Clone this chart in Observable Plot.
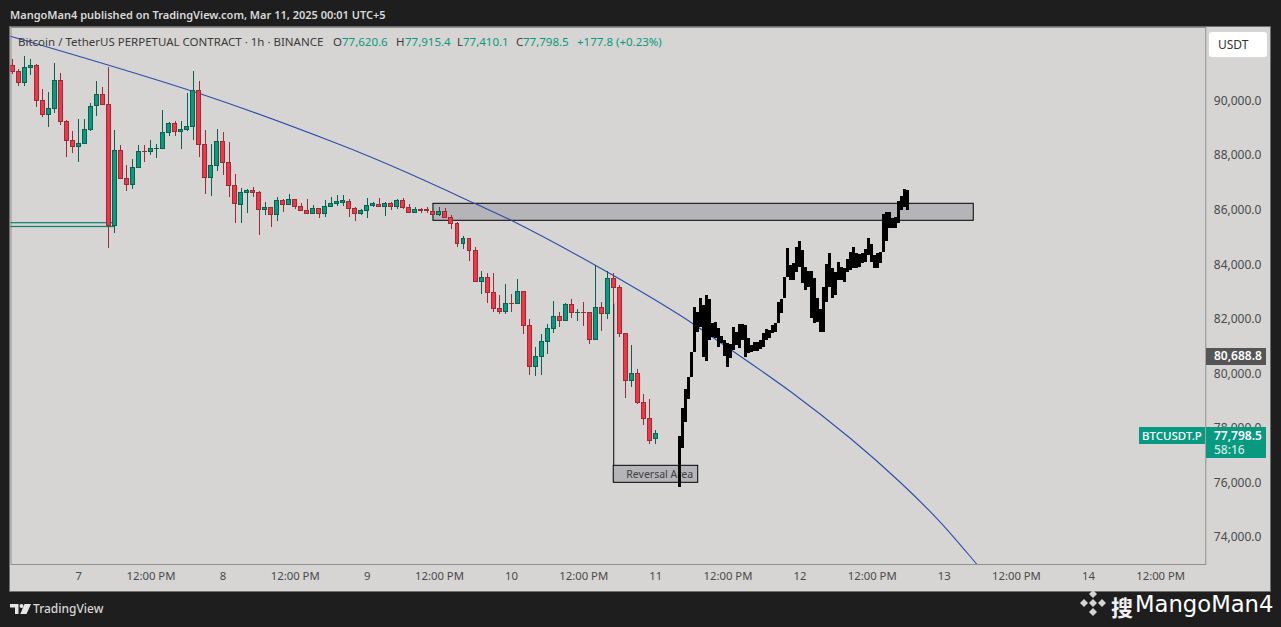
<!DOCTYPE html>
<html>
<head>
<meta charset="utf-8">
<script src="https://cdn.jsdelivr.net/npm/d3@7"></script>
<script src="https://cdn.jsdelivr.net/npm/@observablehq/plot@0.6"></script>
<style>
html,body{margin:0;padding:0;background:#1e1e1e;overflow:hidden;width:1281px;height:627px}
#stage{position:relative;width:1281px;height:627px;font-family:"Noto Sans",sans-serif}
#panel{position:absolute;left:10px;top:27px;width:1260px;height:564px;background:#d6d5d3;box-shadow:0 0 0 1px #6f6f6f}
#chart{position:absolute;left:0;top:0}
.lab{position:absolute;white-space:nowrap;line-height:1}
.tag{position:absolute;display:flex;flex-direction:column;align-items:flex-start;justify-content:center;color:#fff;font-weight:600;font-size:12px;line-height:14px;box-sizing:border-box;padding-left:8px}
svg.deco{position:absolute}
</style>
</head>
<body>
<div id="stage"><div id="panel"></div><div id="chart"></div></div>
<script>
// Hours are counted from 11 March 00:00 (chart time)
const openPrices = [91293,91073,90657,91207,91293,90010,89484,89716,90743,89240,
88543,88311,88421,88934,89814,90230,89863,85415,88177,87150,
86918,87541,88140,88128,88238,88250,88837,89167,88861,88947,
89057,90376,88397,87187,87627,88507,87737,86894,86197,86637,
86710,86637,86014,86087,85831,86344,86197,86380,86124,85977,
85867,86051,85867,86124,86234,86258,86307,86051,85855,85965,
86136,86197,86112,86234,86112,86344,86087,85904,86014,85989,
85940,85818,85940,85721,85501,84755,84951,84511,83362,83521,
82971,82384,82262,82568,82556,83008,81761,80246,80613,81162,
81651,82091,81932,82531,82226,82238,82238,81248,82421,82189,
83484,83154,81468,79745,79977,78938,78352,77620.6];
const highPrices = [91513,91158,91635,91513,91342,90413,90303,91366,91000,89277,
88886,89313,89313,89900,90718,90486,91220,88922,88372,87639,
87847,88372,88372,88556,88409,89643,89203,89252,89252,90279,
91085,90718,88922,88409,88947,88849,88470,87309,86796,86747,
86833,86686,86283,86112,86454,86405,86564,86405,86234,86380,
86161,86051,86344,86466,86539,86539,86393,86112,86014,86429,
86270,86417,86270,86295,86380,86417,86197,86112,86075,86087,
85965,86087,86051,85794,85537,85036,84963,84621,83741,83668,
83668,82861,83264,82898,83448,83008,81981,80967,81444,81810,
82653,82238,82568,82727,82348,82617,82238,83985,82605,83741,
83668,83228,81468,81040,80160,79244,79061,77915.4];
const lowPrices = [90975,90535,90535,90939,89778,89411,89044,89533,89105,87945,
88067,87761,88409,88898,89435,89839,84584,85134,87138,86698,
86759,87517,87761,88018,87896,88238,88690,88702,88238,88898,
88556,87945,86576,86515,87431,87273,86454,85525,85525,85892,
86478,85085,85818,85378,85598,85916,86173,86038,85965,85843,
85843,85708,85745,86087,86136,86148,85745,85598,85806,85696,
86087,86112,85769,85989,86038,86038,85892,85892,85892,85892,
85806,85782,85696,85305,84645,84572,84132,83362,82910,82592,
82262,82165,82189,82262,82556,81456,79953,79916,79953,80711,
81468,81712,81932,82042,81932,81737,81089,81236,81553,82006,
82568,81346,79097,79513,78877,78108,77411,77410.1];
const closePrices = [91061,90657,91220,91293,89998,89484,89716,90743,89240,88543,
88311,88433,88947,89790,90230,89863,85415,88177,87150,86930,
87553,88140,88116,88250,88250,88837,89167,88861,88947,89057,
90376,88397,87187,87627,88507,87737,86882,86222,86637,86698,
86625,86014,86087,85818,86344,86197,86380,86124,85977,85867,
86051,85867,86124,86234,86283,86319,86038,85855,85977,86161,
86209,86124,86234,86112,86344,86075,85904,86014,85965,85977,
85818,85940,85708,85501,84755,84951,84511,83374,83521,82959,
82372,82262,82568,82556,83008,81749,80246,80625,81175,81651,
82091,81932,82531,82226,82238,82226,81236,82421,82189,83484,
83154,81456,79733,79977,78926,78352,77533,77798.5];
const firstCandleHour = -107;

// The black drawn projection: half-hourly ranges
const firstSketchHour = 4;
const sketchHighs = [77701,78728,79424,79864,80781,82431,82248,82761,82505,82871,82725,81845,81881,81661,81368,81221,81111,81074,81698,81515,
81808,81808,81771,81294,81038,81148,81148,81221,81478,81625,81588,81771,81845,82615,82725,83531,84595,83971,84045,84632,
84852,84522,83898,83751,83751,83495,82761,82358,83165,84008,84412,83861,83715,84081,83898,83861,84192,84448,84632,84412,
84375,84412,84558,84962,84741,84338,84412,84448,85842,85915,85915,85695,85731,86318,86502,86758,86722];
const sketchLows = [75842,77261,78214,79058,79864,80781,81515,81698,80598,80451,81221,81331,81295,80964,81111,80635,80231,80561,80855,81038,
80928,81221,80598,80744,80781,80818,80818,80891,80964,81221,81294,81478,81515,81845,82211,82761,83531,83421,83421,83715,
83898,83312,83055,83165,82028,81845,81881,81515,81515,82615,83165,82761,82871,83421,83421,83348,83715,83788,83861,83861,
83898,84045,84081,84338,84081,83861,83861,84045,84448,84852,85328,85328,85328,85512,85988,86098,85988];

// Fitted arc
const arcHours = [-107.4,-75.8,-52.5,-42.2,-30,-24,-10,4.1,7.4,22.4,32.4,40.7,47.4,53.3,55.7];
const arcPrices = [92380,90268,88397,87455,86234,85622,83972,82138,81650,79351,77628,76014,74547,73044,72420];

// Drawn boxes: [start hour, end hour, top price, bottom price]
const resistanceBox = [-37,52.9,86234,85611];
const reversalBox = [-7,7.05,76626,76003];
const reversalLine = [-7,82567,76626];
const leftBox = [-115,-90,85523,85383];
const reversalText = "Reversal Area";

const priceTicks = [74000,76000,78000,80000,82000,84000,86000,88000,90000];
const timeTickHours = [-96,-84,-72,-60,-48,-36,-24,-12,0,12,24,36,48,60,72,84];
const timeTickLabels = ["7","12:00 PM","8","12:00 PM","9","12:00 PM","10","12:00 PM","11","12:00 PM","12","12:00 PM","13","12:00 PM","14","12:00 PM"];
const lastPrice = 77798.5, crossPrice = 80688.8;

const T0 = Date.UTC(2025,2,11);
const at = h => new Date(T0 + h*3600000);

const candles = openPrices.map((o,i)=>({h:firstCandleHour+i,o,hi:highPrices[i],lo:lowPrices[i],c:closePrices[i],up:closePrices[i]>=o}));
const ups = candles.filter(d=>d.up), downs = candles.filter(d=>!d.up);
const sketch = sketchHighs.map((hi,i)=>({h:firstSketchHour+i/2,hi,lo:sketchLows[i]}));
const arc = arcHours.map((h,i)=>({h,p:arcPrices[i]}));
const GREEN="#089981",GREEND="#06634f",RED="#f23645",REDD="#9c2b36";

function candleMarks(rows,fill,edge){
  return [
    Plot.ruleX(rows,{x:d=>at(d.h),y1:"lo",y2:"hi",stroke:edge,strokeWidth:1,clip:true,shapeRendering:"crispEdges"}),
    Plot.rect(rows,{x1:d=>at(d.h-0.33),x2:d=>at(d.h+0.33),y1:"o",y2:"c",fill,stroke:edge,strokeWidth:1,clip:true,shapeRendering:"crispEdges"})
  ];
}
const box = ([a,b,t,l],opt)=>Plot.rect([{a,b,t,l}],{x1:d=>at(d.a),x2:d=>at(d.b),y1:"t",y2:"l",clip:true,...opt});

const plot = Plot.plot({
  width:1281,height:627,
  marginLeft:10.5,marginRight:75.7,marginTop:27,marginBottom:63,
  style:{background:"transparent",fontFamily:'"Noto Sans",sans-serif',fontSize:"12px",color:"#4a4a4a"},
  x:{type:"utc",domain:[at(-107.29),at(91.51)]},
  y:{type:"linear",domain:[73007,92699]},
  marks:[
    Plot.frame({stroke:"#8f8f8f",strokeWidth:1}),
    box(leftBox,{fill:"none",stroke:"#0b7d69",strokeWidth:1.2}),
    box(resistanceBox,{fill:"#b5b4b8",stroke:"#000",strokeWidth:1}),
    box(reversalBox,{fill:"#b5b4b8",stroke:"#000",strokeWidth:1}),
    Plot.ruleX([reversalLine],{x:d=>at(d[0]),y1:d=>d[1],y2:d=>d[2],stroke:"#000",strokeWidth:1}),
    Plot.line(arc,{x:d=>at(d.h),y:"p",stroke:"#2a4ea8",strokeWidth:1.1,curve:"catmull-rom",clip:true}),
    Plot.text([reversalText],{x:at(0.65),y:(reversalBox[2]+reversalBox[3])/2,text:d=>d,fill:"#3e3e3e",fontSize:10.5}),
    ...candleMarks(ups,GREEN,GREEND),
    ...candleMarks(downs,RED,REDD),
    Plot.rect(sketch,{x1:d=>at(d.h-0.27),x2:d=>at(d.h+0.27),y1:"lo",y2:"hi",fill:"#000",clip:true,shapeRendering:"crispEdges"}),
    Plot.axisX({anchor:"bottom",ticks:timeTickHours.map(at),tickSize:0,tickPadding:7,label:null,fill:"#4a4a4a",fontSize:11.3,
      tickFormat:d=>timeTickLabels[timeTickHours.indexOf((+d-T0)/3600000)]}),
    Plot.axisY({anchor:"right",ticks:priceTicks,tickSize:0,tickPadding:8,label:null,fill:"#4a4a4a",
      tickFormat:d3.format(",.1f")})
  ]
});
const stage=document.getElementById("stage");
document.getElementById("chart").appendChild(plot);

function lab(text,left,top,css){
  const e=document.createElement("div");e.className="lab";e.textContent=text;
  e.style.left=left+"px";e.style.top=top+"px";
  Object.assign(e.style,css||{});stage.appendChild(e);return e;
}
// Header
lab("MangoMan4 published on TradingView.com, Mar 11, 2025 00:01 UTC+5",10,9,{color:"#d9d9d9",fontSize:"11px",fontWeight:"600"});
// Legend
const legDark={color:"#3a3a3a",fontSize:"11.5px"},legGreen={color:"#089981",fontSize:"11.5px"};
lab("Bitcoin / TetherUS PERPETUAL CONTRACT · 1h · BINANCE",18,36,legDark);
[["O",333,"77,620.6"],["H",396,"77,915.4"],["L",457,"77,410.1"],["C",516,"77,798.5"]].forEach(([k,x,v])=>{
  const e=lab(k,x,36,legDark);
  lab(v,x+e.offsetWidth,36,legGreen);
});
lab("+177.8 (+0.23%)",577,36,legGreen);
// USDT button
const usdt=lab("USDT",1209,32,{background:"#fff",color:"#333",fontSize:"12px",width:"58px",height:"25px",lineHeight:"25px",textAlign:"left",paddingLeft:"0",borderRadius:"3px",textIndent:"9px"});
// Price tags, placed through the plot's own y scale
const yS=plot.scale("y");
const t1=document.createElement("div");t1.className="tag";
t1.textContent=d3.format(",.1f")(crossPrice);
Object.assign(t1.style,{left:"1206px",top:(yS.apply(crossPrice)-7)+"px",width:"60px",height:"17px",background:"#555"});
stage.appendChild(t1);
const t2=document.createElement("div");t2.className="tag";
t2.innerHTML=d3.format(",.1f")(lastPrice)+'<span style="font-weight:500;color:#cfe9e2">58:16</span>';
Object.assign(t2.style,{left:"1206px",top:(yS.apply(lastPrice)-6)+"px",width:"60px",height:"31px",background:"#089981"});
stage.appendChild(t2);
const t3=document.createElement("div");t3.className="tag";
t3.textContent="BTCUSDT.P";
Object.assign(t3.style,{left:"1139px",top:(yS.apply(lastPrice)-6)+"px",width:"66px",height:"17px",background:"#089981",fontWeight:"500",fontSize:"11.5px",paddingLeft:"3px"});
stage.appendChild(t3);
// Footer
const ns="http://www.w3.org/2000/svg";
function deco(left,top,w,h,inner){
  const s=document.createElementNS(ns,"svg");s.setAttribute("class","deco");s.setAttribute("width",w);s.setAttribute("height",h);
  s.setAttribute("viewBox",`0 0 ${w} ${h}`);s.style.left=left+"px";s.style.top=top+"px";s.innerHTML=inner;stage.appendChild(s);
}
deco(10,603,21,12,'<path d="M0 1h8.5v10H5V4.5H0z" fill="#e6e6e6"/><circle cx="11.5" cy="3" r="2" fill="#e6e6e6"/><path d="M14.5 1H21l-4.5 10h-6.2z" fill="#e6e6e6"/>');
lab("TradingView",33,603,{color:"#d6d6d6",fontSize:"12px",fontWeight:"500"});
deco(1079,589,28,28,'<g fill="#d4d4d4"><path d="M14 1l4 4-4 4-4-4z"/><path d="M14 10l4 4-4 4-4-4z"/><path d="M5 10l4 4-4 4-4-4z"/><path d="M23 10l4 4-4 4-4-4z"/><path d="M14 19l4 4-4 4-4-4z"/></g>');
lab("搜",1111,595,{color:"#f0f0f0",fontSize:"22px",fontFamily:'"Noto Sans CJK SC"',fontWeight:"700"});
lab("MangoMan4",1135,593,{color:"#fff",fontSize:"22.7px",fontFamily:'"DejaVu Sans"'});
</script>
</body>
</html>
